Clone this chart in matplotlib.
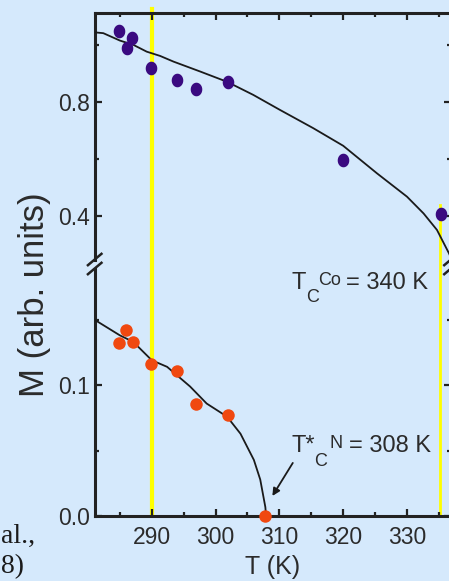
import matplotlib
matplotlib.use("Agg")
import matplotlib.pyplot as plt
import numpy as np
from matplotlib.path import Path
from matplotlib.ticker import MultipleLocator, FormatStrFormatter

plt.rcParams['font.family'] = ['Liberation Sans', 'DejaVu Sans']

# ---- data ----
co_T = [284.9, 286.9, 286.1, 289.8, 294.0, 296.9, 301.9, 319.9, 335.3]
co_M = [1.051, 1.027, 0.992, 0.922, 0.880, 0.845, 0.871, 0.598, 0.406]

co_fit_T = [281.0, 282.4, 285.0, 287.1, 289.2, 291.3, 293.4, 297.6, 301.8,
            305.9, 310.1, 315.3, 320.0, 325.3, 330.0, 332.6, 334.7, 336.6, 337.5]
co_fit_M = [1.046, 1.043, 1.017, 1.002, 0.978, 0.963, 0.943, 0.908, 0.872,
            0.826, 0.773, 0.709, 0.647, 0.550, 0.468, 0.409, 0.351, 0.268, 0.22]

ni_T = [284.9, 286.0, 287.0, 289.9, 294.0, 296.9, 301.9, 307.7]
ni_M = [0.132, 0.142, 0.133, 0.116, 0.111, 0.086, 0.077, 0.0]

ni_fit_T = [281.0, 285.0, 287.1, 290.0, 292.4, 296.0, 298.6, 301.8, 303.9,
            306.0, 307.0, 307.8, 307.9]
ni_fit_M = [0.150, 0.138, 0.133, 0.119, 0.114, 0.099, 0.086, 0.076, 0.063,
            0.043, 0.028, 0.007, 0.001]

yellow_T = [290.0, 335.2]

xlim = (281.05, 336.9)
ylim_top = (0.247, 1.115)
ylim_bot = (0.0, 0.189)

# ---- figure ----
W, H = 449, 581
bg = '#d5e9fc'
fig = plt.figure(figsize=(W / 100, H / 100), dpi=100, facecolor=bg)

def px_box(x0, y0, x1, y1):
    return [x0 / W, 1 - y1 / H, (x1 - x0) / W, (y1 - y0) / H]

def ftext(x, y, s, **kw):
    return fig.text(x / W, 1 - y / H, s, **kw)

ax_t = fig.add_axes(px_box(94.7, 12.7, 451.0, 259.5))
ax_b = fig.add_axes(px_box(94.7, 268.5, 451.0, 516.3))

spc = '#222222'
txtc = '#2b2b2b'
for ax in (ax_t, ax_b):
    ax.set_facecolor(bg)
    ax.set_xlim(*xlim)
    for s in ax.spines.values():
        s.set_linewidth(2.2)
        s.set_color(spc)
    ax.xaxis.set_major_locator(MultipleLocator(10))
    ax.xaxis.set_minor_locator(MultipleLocator(5))
    ax.tick_params(which='both', direction='in', width=1.6, color=spc,
                   labelsize=16.5, labelcolor=txtc, left=True, right=True)
    ax.tick_params(which='major', length=5)
    ax.tick_params(which='minor', length=2.8)

ax_t.set_ylim(*ylim_top)
ax_b.set_ylim(*ylim_bot)
ax_t.spines['bottom'].set_visible(False)
ax_b.spines['top'].set_visible(False)
ax_t.tick_params(which='both', bottom=False, top=True, labelbottom=False)
ax_b.tick_params(which='both', bottom=True, top=False)
ax_t.yaxis.set_major_locator(MultipleLocator(0.4))
ax_t.yaxis.set_minor_locator(MultipleLocator(0.2))
ax_b.yaxis.set_major_locator(MultipleLocator(0.1))
ax_b.yaxis.set_minor_locator(MultipleLocator(0.05))
ax_t.yaxis.set_major_formatter(FormatStrFormatter('%.1f'))
ax_b.yaxis.set_major_formatter(FormatStrFormatter('%.1f'))
ax_b.tick_params(axis='x', pad=7)

# yellow lines
ax_t.axvline(yellow_T[0], ymin=-0.04, ymax=1.013, color='#ffff00', lw=3.0,
             clip_on=False, zorder=1)
ax_b.axvline(yellow_T[0], ymin=0, ymax=1, color='#ffff00', lw=3.0, zorder=1)
ax_t.axvline(yellow_T[1], ymin=-0.04, ymax=0.22, color='#ffff00', lw=2.0,
             clip_on=False, zorder=1)
ax_b.axvline(yellow_T[1], ymin=0, ymax=1, color='#ffff00', lw=2.0, zorder=1)

# fits
ax_t.plot(co_fit_T, co_fit_M, color='#1a1a1a', lw=1.3, zorder=3)
ax_b.plot(ni_fit_T, ni_fit_M, color='#1a1a1a', lw=1.3, zorder=3)

# markers
th = np.linspace(0, 2 * np.pi, 40)
ell = Path(np.column_stack([0.85 * np.cos(th), np.sin(th)]), closed=True)
ax_t.plot(co_T, co_M, ls='none', marker=ell, ms=9.8, color='#3a0a80',
          mec='none', zorder=4, clip_on=False)
ax_b.plot(ni_T, ni_M, ls='none', marker='o', ms=9.0, color='#f04810',
          mec='none', zorder=4, clip_on=False)

# break marks
for ax, yv in ((ax_t, 0.0), (ax_b, 1.0)):
    for xv in (0.0, 1.0):
        ax.plot([xv - 0.019, xv + 0.019], [yv - 0.023, yv + 0.023],
                transform=ax.transAxes, color=spc, lw=1.8, clip_on=False,
                zorder=5)

# axis labels
ax_b.set_xlabel('T (K)', fontsize=18, color=txtc, labelpad=4)
ftext(35, 295, 'M (arb. units)', rotation=90, fontsize=25, color=txtc,
      ha='center', va='center')

# Tc labels built from pieces (main, subscript, superscript)
big, small = 17, 13
ftext(292, 289.3, 'T', fontsize=big, color=txtc, va='baseline')
ftext(306.5, 302, 'C', fontsize=small, color=txtc, va='baseline')
ftext(318.5, 285, 'Co', fontsize=small, color=txtc, va='baseline')
ftext(346.5, 289.3, '= 340 K', fontsize=big, color=txtc, va='baseline')

ftext(292, 452.3, 'T*', fontsize=big, color=txtc, va='baseline')
ftext(314.5, 466, 'C', fontsize=small, color=txtc, va='baseline')
ftext(329.5, 448, 'N', fontsize=small, color=txtc, va='baseline')
ftext(349, 452.3, '= 308 K', fontsize=big, color=txtc, va='baseline')

ax_b.annotate('', xy=(308.9, 0.0155), xytext=(312.1, 0.0407),
              arrowprops=dict(arrowstyle='-|>', color='#1a1a1a', lw=1.3,
                              mutation_scale=11, shrinkA=0, shrinkB=0))

# residual serif text on the left margin
ftext(0.5, 543, 'al.,', fontsize=20, family='Liberation Serif',
      color='#1a1a1a', ha='left', va='baseline')
ftext(0.5, 573, '8)', fontsize=20, family='Liberation Serif',
      color='#1a1a1a', ha='left', va='baseline')

fig.savefig('out.png', dpi=100, facecolor=bg)
